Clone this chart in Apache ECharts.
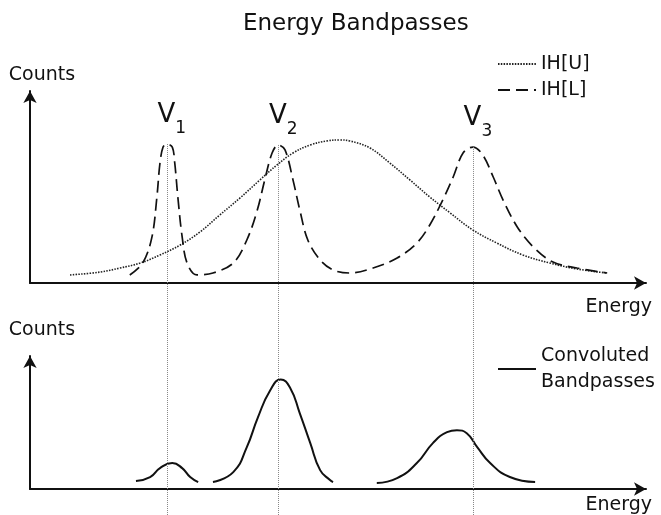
<!DOCTYPE html>
<html><head><meta charset="utf-8">
<script src="https://cdn.jsdelivr.net/npm/echarts@6/dist/echarts.min.js"></script>
<style>html,body{margin:0;padding:0;background:#fff}#c{width:661px;height:515px}</style>
</head><body><div id="c"></div>
<script>
// IH[U] (dotted) bandpass
const uX = [6.5,11.4,14.6,17.9,21.1,24.4,27.6,30.8,34.1,37.3,40.1,42.7,45.5,48.2,50.3,51.9,55.2,58.4,61.7,64.9,68.2,71.9,75.8,80.0,84.4,88.8,93.7];
const uY = [4.2,5.7,7.8,10.4,14.6,19.8,26.6,35.4,44.3,53.6,61.5,67.7,71.9,74.0,74.5,74.0,70.3,62.5,53.6,44.8,36.5,27.6,20.8,14.6,10.4,7.3,5.2];
// IH[L] (dashed) bandpasses
const lX = [16.2,18.3,19.8,20.6,21.1,21.6,22.2,23.1,23.5,24.0,24.7,25.5,27.1,29.7,33.0,35.2,36.9,38.1,39.3,40.3,41.4,42.7,43.8,45.1,47.1,49.2,51.9,55.7,59.6,62.8,64.9,67.0,68.7,70.3,71.9,73.5,75.2,76.8,79.1,81.7,84.9,88.8,93.7];
const lY = [4.2,10.4,24.0,44.8,62.5,70.8,72.4,70.8,62.5,44.8,24.0,10.4,4.2,5.2,10.4,22.4,38.0,53.6,67.7,71.9,69.3,53.6,38.0,22.4,12.0,6.8,5.2,7.8,13.0,20.8,30.2,43.2,55.2,67.7,70.8,66.7,55.2,43.2,29.2,18.8,10.9,7.8,5.2];
// Peaks V1..V3
const peakLabels = ['1','2','3'];
const peakX = [22.2,40.3,71.9];
const peakY = [72.4,71.9,70.8];
// Convoluted bandpasses (three segments)
const c1X = [17.2,19.5,21.1,23.1,24.7,26.0,27.3];
const c1Y = [6.0,9.0,15.7,19.5,15.7,9.0,5.2];
const c2X = [29.7,33.0,35.2,37.0,39.0,40.7,42.2,43.8,45.5,47.1,48.7,49.2];
const c2Y = [5.2,12.7,31.5,53.9,74.2,82.4,76.4,56.9,34.5,14.2,6.7,5.2];
const c3X = [56.3,59.6,62.8,65.4,67.7,69.3,70.9,72.6,74.7,77.9,82.0];
const c3Y = [4.5,8.2,19.5,34.5,42.7,44.2,41.9,31.5,19.5,9.0,5.2];

const FONT = 'DejaVu Sans';
const zip = (xs, ys) => xs.map((x, i) => [x, ys[i]]);
const convData = [].concat(zip(c1X, c1Y), [[28.5, '-']], zip(c2X, c2Y), [[52, '-']], zip(c3X, c3Y));

const axisLine = {show: true, symbol: ['none', 'arrow'], symbolSize: [10, 12], lineStyle: {color: '#111', width: 2}};
const hidden = {axisTick: {show: false}, axisLabel: {show: false}, splitLine: {show: false}};
const nameStyle = {fontFamily: FONT, fontSize: 19, color: '#111'};

const chart = echarts.init(document.getElementById('c'), null, {renderer: 'canvas'});
chart.setOption({
  animation: false,
  backgroundColor: '#fff',
  title: {text: 'Energy Bandpasses', left: 238, top: 8,
    textStyle: {fontFamily: FONT, fontSize: 23, fontWeight: 'normal', color: '#111'}},
  grid: [
    {left: 30, right: 15, top: 91, bottom: 232},
    {left: 30, right: 15, top: 356, bottom: 26},
    {left: 30, right: 15, top: 283, bottom: 0}
  ],
  xAxis: [
    Object.assign({type: 'value', gridIndex: 0, min: 0, max: 100, axisLine, name: 'Energy', nameLocation: 'end', nameGap: 6,
      nameTextStyle: Object.assign({align: 'right', verticalAlign: 'top', padding: [15, 0, 0, 0]}, nameStyle)}, hidden),
    Object.assign({type: 'value', gridIndex: 1, min: 0, max: 100, axisLine, name: 'Energy', nameLocation: 'end', nameGap: 6,
      nameTextStyle: Object.assign({align: 'right', verticalAlign: 'top', padding: [7, 0, 0, 0]}, nameStyle)}, hidden),
    Object.assign({type: 'value', gridIndex: 2, min: 0, max: 100, show: false}, hidden)
  ],
  yAxis: [
    Object.assign({type: 'value', gridIndex: 0, min: 0, max: 100, axisLine, name: 'Counts', nameLocation: 'end', nameGap: 6,
      nameTextStyle: Object.assign({align: 'center', padding: [0, 0, 0, 24]}, nameStyle)}, hidden),
    Object.assign({type: 'value', gridIndex: 1, min: 0, max: 100, axisLine, name: 'Counts', nameLocation: 'end', nameGap: 16,
      nameTextStyle: Object.assign({align: 'center', padding: [0, 0, 0, 24]}, nameStyle)}, hidden),
    Object.assign({type: 'value', gridIndex: 2, min: 0, max: 1, show: false}, hidden)
  ],
  legend: [
    {data: ['IH[U]', 'IH[L]'], orient: 'vertical', left: 492, top: 49, itemWidth: 38, itemHeight: 14, itemGap: 6,
      itemStyle: {opacity: 0},
      textStyle: {fontFamily: FONT, fontSize: 19, color: '#111', lineHeight: 20}},
    {data: ['Convoluted Bandpasses'], left: 492, top: 338, itemWidth: 38, itemHeight: 14,
      itemStyle: {opacity: 0},
      formatter: () => 'Convoluted\nBandpasses',
      textStyle: {fontFamily: FONT, fontSize: 19, color: '#111', lineHeight: 26}}
  ],
  series: [
    {name: 'IH[U]', type: 'line', xAxisIndex: 0, yAxisIndex: 0, data: zip(uX, uY), smooth: 0.4, symbol: 'none',
      lineStyle: {color: '#222', width: 1.6, type: [1.5, 1.3]}, itemStyle: {color: '#222'}, z: 3},
    {name: 'IH[L]', type: 'line', xAxisIndex: 0, yAxisIndex: 0, data: zip(lX, lY), smooth: 0.35, symbol: 'none',
      lineStyle: {color: '#111', width: 1.7, type: [12, 6]}, itemStyle: {color: '#111'}, z: 3,
      markLine: {silent: true, symbol: ['none', 'none'], label: {show: false},
        lineStyle: {color: '#888', width: 1, type: [1, 1]},
        data: peakX.map((x, i) => [{coord: [x, peakY[i]]}, {coord: [x, 0]}])},
      markPoint: {symbol: 'circle', symbolSize: 1, itemStyle: {color: 'rgba(0,0,0,0)'},
        label: {show: true, position: 'top', distance: 6, offset: [5, 0], color: '#111',
          formatter: p => '{v|V}{s|' + p.name + '}',
          rich: {v: {fontFamily: FONT, fontSize: 26, verticalAlign: 'bottom', padding: [0, 0, 9, 0], color: '#111'},
                 s: {fontFamily: FONT, fontSize: 17, verticalAlign: 'bottom', color: '#111'}}},
        data: peakX.map((x, i) => ({name: peakLabels[i], coord: [x, peakY[i]]}))}},
    {name: 'Convoluted Bandpasses', type: 'line', xAxisIndex: 1, yAxisIndex: 1, data: convData, smooth: 0.5, symbol: 'none',
      connectNulls: false, lineStyle: {color: '#111', width: 2}, itemStyle: {color: '#111'}, z: 3},
    {name: 'peaks', type: 'line', xAxisIndex: 2, yAxisIndex: 2, data: peakX.map(x => [x, 0.5]), symbol: 'none',
      lineStyle: {opacity: 0}, z: 1,
      markLine: {silent: true, symbol: ['none', 'none'], label: {show: false},
        lineStyle: {color: '#888', width: 1, type: [1, 1]},
        data: peakX.map(x => ({xAxis: x}))}}
  ]
});
</script></body></html>
